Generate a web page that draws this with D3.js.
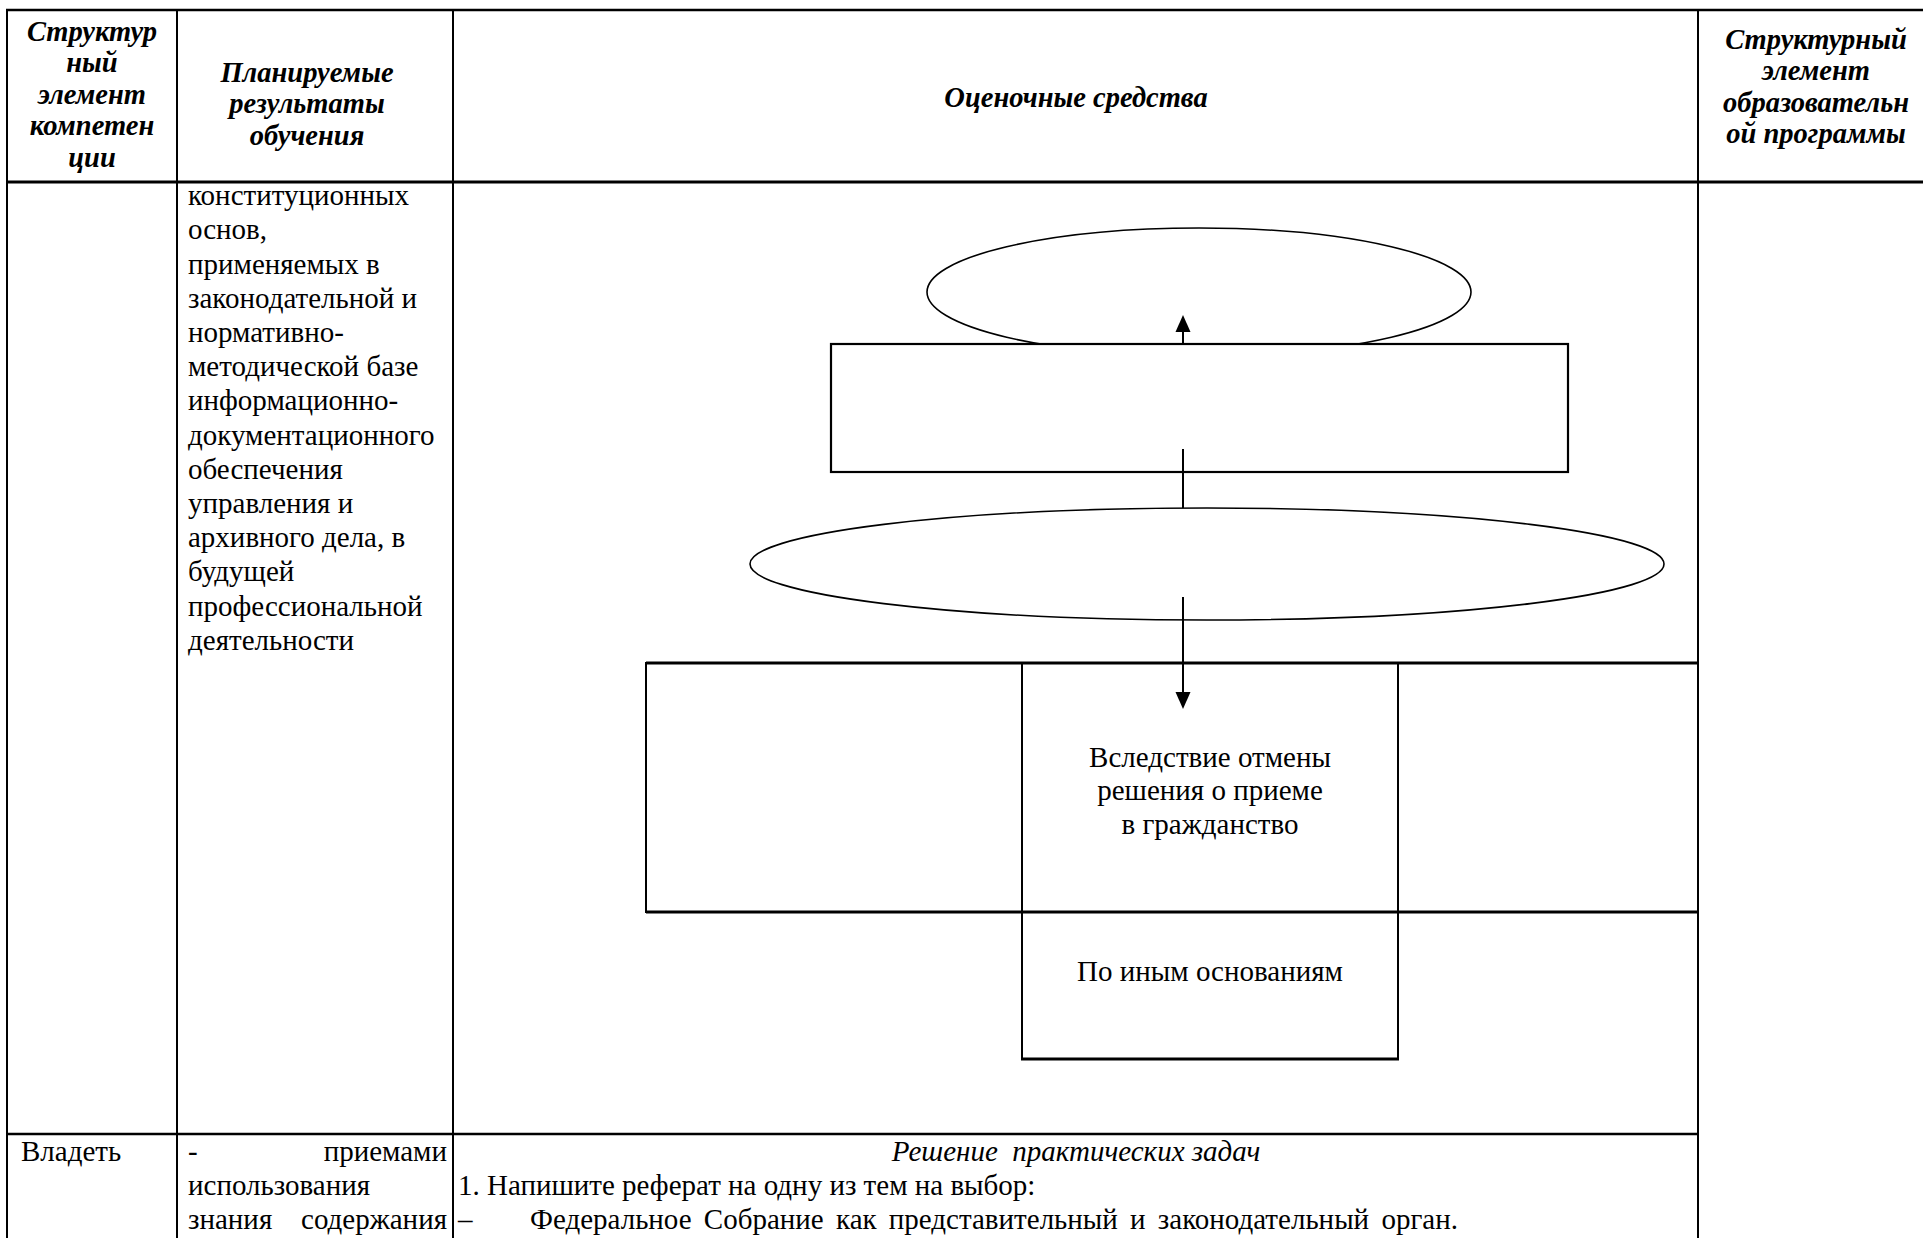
<!DOCTYPE html>
<html>
<head>
<meta charset="utf-8">
<script src="https://cdn.jsdelivr.net/npm/d3@7"></script>
<style>
  html, body { margin: 0; padding: 0; background: #fff; }
  svg { display: block; }
  text { font-family: "Liberation Serif", "Times New Roman", serif; fill: #000; }
</style>
</head>
<body>
<svg id="doc" width="1923" height="1238"></svg>
<script>
// ---------- content (data) ----------
const headerCol1 = ["Структур", "ный", "элемент", "компетен", "ции"];
const headerCol2 = ["Планируемые", "результаты", "обучения"];
const headerCol3 = ["Оценочные средства"];
const headerCol4 = ["Структурный", "элемент", "образовательн", "ой программы"];

const resultLines = ["конституционных", "основ,", "применяемых в", "законодательной и",
  "нормативно-", "методической базе", "информационно-", "документационного",
  "обеспечения", "управления и", "архивного дела, в", "будущей",
  "профессиональной", "деятельности"];

const boxLabels = ["Вследствие отмены", "решения о приеме", "в гражданство"];
const lowerBoxLabel = ["По иным основаниям"];

const ownLabel = ["Владеть"];
const ownResult = [["-", "приемами"], ["использования"], ["знания", "содержания"]];
const taskTitle = ["Решение  практических задач"];
const taskLines = ["1. Напишите реферат на одну из тем на выбор:"];
const taskBullets = ["Федеральное Собрание как представительный и законодательный орган."];

// ---------- layout ----------
const W = 1923, H = 1238;
const svg = d3.select("#doc");
const colX = [7, 177, 453, 1698, 1935];
const rowY = [10, 182, 1134];
const bodyFont = 29, headFont = 28.5, headLH = 31.6, lineH = 34.2;

const g = svg.append("g");

function line(x1, y1, x2, y2, w) {
  g.append("line").attr("x1", x1).attr("y1", y1).attr("x2", x2).attr("y2", y2)
    .attr("stroke", "#000").attr("stroke-width", w);
}

// ---------- table grid ----------
line(colX[0] - 1, rowY[0], W, rowY[0], 2.6);
line(colX[0] - 1, rowY[1], W, rowY[1], 2.8);
line(colX[0] - 1, rowY[2], colX[3] + 1, rowY[2], 2.6);
[colX[0], colX[1], colX[2], colX[3]].forEach(x => line(x, rowY[0] - 1, x, H, 2));

// ---------- header ----------
function headBlock(lines, cx, firstY) {
  g.append("g").selectAll("text").data(lines).join("text")
    .attr("x", cx).attr("y", (d, i) => firstY + i * headLH + headFont * 0.3)
    .attr("text-anchor", "middle")
    .attr("font-size", headFont).attr("font-weight", "bold").attr("font-style", "italic")
    .text(d => d);
}
headBlock(headerCol1, 92, 32);
headBlock(headerCol2, 307, 73);
headBlock(headerCol3, 1076, 98);
headBlock(headerCol4, 1816, 40);

// ---------- learning results column ----------
g.append("g").selectAll("text").data(resultLines).join("text")
  .attr("x", 188).attr("y", (d, i) => 197 + i * lineH + bodyFont * 0.28)
  .attr("font-size", bodyFont).text(d => d);

// ---------- flowchart ----------
const fc = g.append("g");
const axisX = 1183;

fc.append("ellipse").attr("cx", 1199).attr("cy", 292).attr("rx", 272).attr("ry", 64)
  .attr("fill", "#fff").attr("stroke", "#000").attr("stroke-width", 1.6);
fc.append("rect").attr("x", 831).attr("y", 344).attr("width", 737).attr("height", 128)
  .attr("fill", "#fff").attr("stroke", "#000").attr("stroke-width", 2.2);

function arrowHead(x, tipY, dir) {
  const len = 17, hw = 7.5;
  const p = d3.path();
  p.moveTo(x, tipY);
  p.lineTo(x - hw, tipY - dir * len);
  p.lineTo(x + hw, tipY - dir * len);
  p.closePath();
  fc.append("path").attr("d", p.toString()).attr("fill", "#000");
}
// up arrow from rect top into top ellipse
fc.append("line").attr("x1", axisX).attr("y1", 345).attr("x2", axisX).attr("y2", 328)
  .attr("stroke", "#000").attr("stroke-width", 2);
arrowHead(axisX, 315, -1);

// connector rect -> lower ellipse
fc.append("line").attr("x1", axisX).attr("y1", 449).attr("x2", axisX).attr("y2", 508)
  .attr("stroke", "#000").attr("stroke-width", 2);

fc.append("ellipse").attr("cx", 1207).attr("cy", 564).attr("rx", 457).attr("ry", 56)
  .attr("fill", "none").attr("stroke", "#000").attr("stroke-width", 1.6);

// boxes
line(646, 663, colX[3], 663, 3);
line(646, 912, colX[3], 912, 3);
line(646, 662, 646, 913, 2);
line(1022, 663, 1022, 1059, 2);
line(1398, 663, 1398, 1059, 2);
line(1021, 1059, 1399, 1059, 3);

// down arrow
fc.append("line").attr("x1", axisX).attr("y1", 597).attr("x2", axisX).attr("y2", 696)
  .attr("stroke", "#000").attr("stroke-width", 2);
arrowHead(axisX, 709, 1);

fc.append("g").selectAll("text").data(boxLabels).join("text")
  .attr("x", 1210).attr("y", (d, i) => 758 + i * 33.5 + bodyFont * 0.3)
  .attr("text-anchor", "middle").attr("font-size", bodyFont).text(d => d);
fc.append("g").selectAll("text").data(lowerBoxLabel).join("text")
  .attr("x", 1210).attr("y", 972 + bodyFont * 0.3)
  .attr("text-anchor", "middle").attr("font-size", bodyFont).text(d => d);

// ---------- "Владеть" row ----------
const rowTop = 1152;
g.append("g").selectAll("text").data(ownLabel).join("text")
  .attr("x", 21).attr("y", rowTop + bodyFont * 0.3).attr("font-size", bodyFont).text(d => d);

const jl = 188, jr = 447;
ownResult.forEach((words, i) => {
  const y = rowTop + i * lineH + bodyFont * 0.3;
  g.append("text").attr("x", jl).attr("y", y).attr("font-size", bodyFont).text(words[0]);
  if (words.length > 1) {
    g.append("text").attr("x", jr).attr("y", y).attr("text-anchor", "end")
      .attr("font-size", bodyFont).text(words[1]);
  }
});

g.append("g").selectAll("text").data(taskTitle).join("text")
  .attr("x", 1076).attr("y", rowTop + bodyFont * 0.3).attr("text-anchor", "middle")
  .attr("font-size", bodyFont).attr("font-style", "italic")
  .style("white-space", "pre").text(d => d);
g.append("g").selectAll("text").data(taskLines).join("text")
  .attr("x", 458).attr("y", rowTop + lineH + bodyFont * 0.3)
  .attr("font-size", bodyFont).text(d => d);
taskBullets.forEach((t, i) => {
  const y = rowTop + (2 + i) * lineH + bodyFont * 0.3;
  g.append("text").attr("x", 458).attr("y", y).attr("font-size", bodyFont).text("\u2013");
  g.append("text").attr("x", 530).attr("y", y).attr("font-size", bodyFont)
    .attr("word-spacing", 5).text(t);
});
</script>
</body>
</html>
